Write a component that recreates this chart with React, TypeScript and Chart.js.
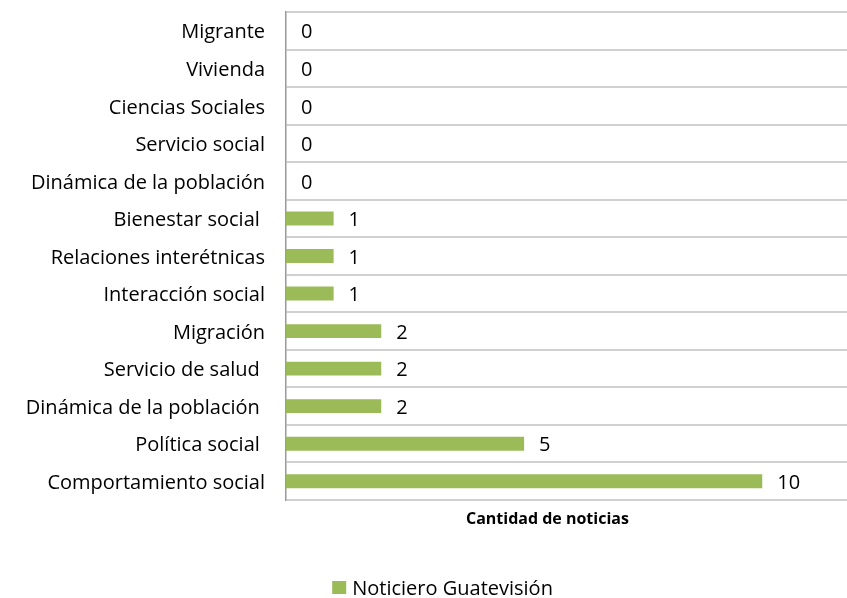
import React, { useEffect, useRef } from "react";
import { Chart, registerables } from "chart.js";

Chart.register(...registerables);

const categories: string[] = [
  "Migrante",
  "Vivienda",
  "Ciencias Sociales",
  "Servicio social",
  "Dinámica de la población",
  "Bienestar social ",
  "Relaciones interétnicas",
  "Interacción social",
  "Migración",
  "Servicio de salud ",
  "Dinámica de la población ",
  "Política social ",
  "Comportamiento social",
];

const values: number[] = [0, 0, 0, 0, 0, 1, 1, 1, 2, 2, 2, 5, 10];

const seriesLabel = "Noticiero Guatevisión";
const axisTitle = "Cantidad de noticias";

const FONT = "'Open Sans', 'DejaVu Sans', sans-serif";
const BAR_COLOR = "#9BBB59";
const LABEL_SIZE = 20;

const dataLabelPlugin = {
  id: "dataLabels",
  afterDatasetsDraw(chart: any) {
    const ctx = chart.ctx;
    const meta = chart.getDatasetMeta(0);
    const ds = chart.data.datasets[0];
    ctx.save();
    ctx.font = `${LABEL_SIZE}px ${FONT}`;
    ctx.fillStyle = "#000";
    ctx.textAlign = "left";
    ctx.textBaseline = "middle";
    meta.data.forEach((el: any, i: number) => {
      ctx.fillText(String(ds.data[i]), el.x + 15, el.y + 2);
    });
    ctx.restore();
  },
};

const axisTitlePlugin = {
  id: "axisTitleCustom",
  afterDraw(chart: any) {
    const ctx = chart.ctx;
    const area = chart.chartArea;
    ctx.save();
    ctx.font = `bold 16px ${FONT}`;
    ctx.fillStyle = "#000";
    ctx.textAlign = "center";
    ctx.textBaseline = "middle";
    ctx.fillText(axisTitle, area.left + area.width * 0.466, area.bottom + 19);
    ctx.restore();
  },
};

const legendPlugin = {
  id: "legendCustom",
  afterDraw(chart: any) {
    const ctx = chart.ctx;
    const ds = chart.data.datasets[0];
    ctx.save();
    ctx.font = `${LABEL_SIZE}px ${FONT}`;
    const tw = ctx.measureText(ds.label).width;
    const box = 14;
    const gap = 6;
    const total = box + gap + tw;
    const cx = chart.width * 0.5225;
    const cy = chart.height - 10;
    const x0 = cx - total / 2;
    ctx.fillStyle = ds.backgroundColor;
    ctx.fillRect(x0, cy - box / 2, box, box - 1);
    ctx.fillStyle = "#000";
    ctx.textAlign = "left";
    ctx.textBaseline = "middle";
    ctx.fillText(ds.label, x0 + box + gap, cy + 1);
    ctx.restore();
  },
};

export default function App() {
  const ref = useRef<HTMLCanvasElement | null>(null);

  useEffect(() => {
    document.body.style.margin = "0";
    const canvas = ref.current;
    if (!canvas) return;
    const chart = new Chart(canvas, {
      type: "bar",
      data: {
        labels: categories,
        datasets: [
          {
            label: seriesLabel,
            data: values,
            backgroundColor: BAR_COLOR,
            borderWidth: 0,
            barPercentage: 0.37,
            categoryPercentage: 1,
          },
        ],
      },
      options: {
        indexAxis: "y",
        responsive: false,
        animation: false,
        devicePixelRatio: 1,
        layout: { padding: { top: 12, right: 0, left: 0, bottom: 0 } },
        plugins: {
          legend: { display: false },
          tooltip: { enabled: false },
          title: { display: false },
        },
        scales: {
          x: {
            min: 0,
            max: 11.78,
            ticks: { display: false },
            grid: { display: false, drawTicks: false },
            border: { display: false },
            afterFit(scale: any) {
              scale.height = 98;
              scale.paddingLeft = 0;
              scale.paddingRight = 0;
            },
          },
          y: {
            ticks: {
              color: "#000",
              font: { family: FONT, size: LABEL_SIZE },
              padding: 21,
              labelOffset: 2,
              autoSkip: false,
            },
            grid: {
              color: "#D0D0D0",
              lineWidth: 2,
              drawTicks: false,
              offset: true,
            },
            border: { color: "#9A9A9A", width: 1.5 },
            afterFit(scale: any) {
              scale.width = 286;
              scale.paddingTop = 0;
              scale.paddingBottom = 0;
            },
          },
        },
      },
      plugins: [dataLabelPlugin, axisTitlePlugin, legendPlugin],
    });
    return () => chart.destroy();
  }, []);

  return (
    <div style={{ position: "fixed", left: 0, top: 0, width: 847, height: 598, background: "#fff" }}>
      <canvas ref={ref} width={847} height={598} />
    </div>
  );
}
